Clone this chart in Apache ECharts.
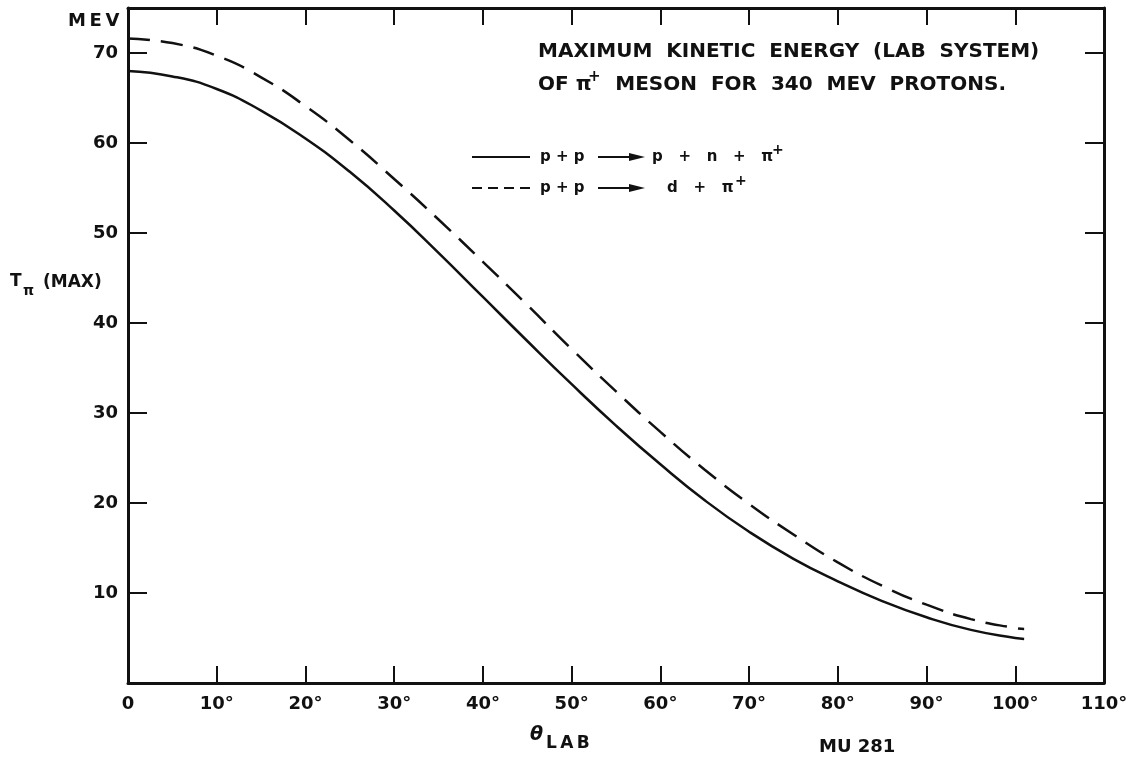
<!DOCTYPE html>
<html lang="en">
<head>
<meta charset="UTF-8">
<title>pi meson max kinetic energy</title>
<style>
  html, body { margin: 0; padding: 0; background: #fff; }
  #chart { width: 1143px; height: 760px; }
</style>
</head>
<body>
<div id="chart"></div>
<script src="https://cdn.jsdelivr.net/npm/echarts@6/dist/echarts.min.js"></script>
<script>
  // lab angle (deg) and max kinetic energy (MeV)
  var angles = [0, 5, 10, 15, 20, 25, 30, 35, 40, 45, 50, 55, 60, 65, 70, 75, 80, 85, 90, 95, 100, 101];
  var ppnPi = [68.0, 67.4, 66.0, 63.6, 60.5, 56.8, 52.5, 47.8, 42.9, 38.0, 33.2, 28.6, 24.3, 20.3, 16.8, 13.8, 11.3, 9.1, 7.3, 5.9, 5.0, 4.9];
  var dPi = [71.6, 71.1, 69.7, 67.3, 64.1, 60.3, 56.0, 51.5, 46.8, 42.0, 37.1, 32.4, 27.9, 23.7, 19.9, 16.5, 13.4, 10.8, 8.7, 7.1, 6.1, 6.0];

  var FONT = '"DejaVu Sans", sans-serif';
  var INK = '#111';

  function pairs(ys) {
    return angles.map(function (a, i) { return [a, ys[i]]; });
  }

  // plain text helper, (x, y) = left / middle of the text
  function txt(x, y, s, size, opts) {
    opts = opts || {};
    return {
      type: 'text', x: x, y: y, z: 10,
      style: {
        text: s, fill: INK,
        font: (opts.italic ? 'italic ' : '') + 'bold ' + size + 'px ' + FONT,
        align: opts.align || 'left', verticalAlign: 'middle'
      }
    };
  }

  function arrow(y) {
    return [
      { type: 'line', z: 10, shape: { x1: 598, y1: y, x2: 633, y2: y }, style: { stroke: INK, lineWidth: 2 } },
      { type: 'polygon', z: 10, shape: { points: [[629, y - 4], [645, y], [629, y + 4]] }, style: { fill: INK } }
    ];
  }

  var chart = echarts.init(document.getElementById('chart'));

  var frameLine = { onZero: false, lineStyle: { color: INK, width: 3 } };
  var tick = function (len) {
    return { show: true, inside: true, length: len, lineStyle: { color: INK, width: 2 } };
  };

  var legendRow1 = 157, legendRow2 = 188;

  chart.setOption({
    backgroundColor: '#fff',
    animation: false,
    grid: { left: 128, right: 39, top: 8, bottom: 77 },
    xAxis: [{
      type: 'value', min: 0, max: 110, interval: 10, position: 'bottom',
      axisLine: frameLine, axisTick: tick(17), splitLine: { show: false },
      axisLabel: {
        margin: 12, color: INK, fontFamily: FONT, fontWeight: 'bold', fontSize: 18,
        formatter: function (v) { return v === 0 ? '0' : v + '\u00B0'; }
      }
    }, {
      type: 'value', min: 0, max: 110, interval: 10, position: 'top',
      axisLine: frameLine, axisTick: tick(17), splitLine: { show: false },
      axisLabel: { show: false }
    }],
    yAxis: [{
      type: 'value', min: 0, max: 75, interval: 10, position: 'left',
      axisLine: frameLine, axisTick: tick(19), splitLine: { show: false },
      axisLabel: {
        margin: 10, color: INK, fontFamily: FONT, fontWeight: 'bold', fontSize: 18,
        formatter: function (v) { return (v === 0 || v === 75) ? '' : String(v); }
      }
    }, {
      type: 'value', min: 0, max: 75, interval: 10, position: 'right',
      axisLine: frameLine, axisTick: tick(19), splitLine: { show: false },
      axisLabel: { show: false }
    }],
    series: [{
      name: 'p + p -> p + n + pi+', type: 'line', smooth: true, symbol: 'none',
      lineStyle: { color: INK, width: 2.5 },
      data: pairs(ppnPi)
    }, {
      name: 'p + p -> d + pi+', type: 'line', smooth: true, symbol: 'none',
      lineStyle: { color: INK, width: 2.5, type: [22, 11] },
      data: pairs(dPi)
    }],
    graphic: [
      // title block
      txt(538, 52, 'MAXIMUM  KINETIC  ENERGY  (LAB  SYSTEM)', 20),
      txt(538, 85, 'OF \u03C0', 20),
      txt(588, 77, '+', 15),
      txt(1006, 85, 'MESON  FOR  340  MEV  PROTONS.', 20, { align: 'right' }),

      // hand-drawn legend
      { type: 'line', z: 10, shape: { x1: 472, y1: legendRow1, x2: 530, y2: legendRow1 }, style: { stroke: INK, lineWidth: 2 } },
      txt(540, legendRow1, 'p + p', 15),
      txt(652, legendRow1, 'p   +   n   +   \u03C0', 15),
      txt(772, legendRow1 - 7, '+', 14),
      { type: 'line', z: 10, shape: { x1: 472, y1: legendRow2, x2: 530, y2: legendRow2 }, style: { stroke: INK, lineWidth: 2, lineDash: [10, 6] } },
      txt(540, legendRow2, 'p + p', 15),
      txt(667, legendRow2, 'd   +   \u03C0', 15),
      txt(735, legendRow2 - 7, '+', 14)
    ].concat(arrow(legendRow1), arrow(legendRow2), [
      // axis names
      txt(68, 21, 'M\u2009E\u2009V', 18),
      txt(10, 282, 'T', 17),
      txt(23, 291, '\u03C0', 14),
      txt(43, 283, '(MAX)', 17),
      txt(530, 735, '\u03B8', 19, { italic: true }),
      txt(546, 744, 'L\u2009A\u2009B', 17),
      txt(819, 747, 'MU 281', 18)
    ])
  });
</script>
</body>
</html>
